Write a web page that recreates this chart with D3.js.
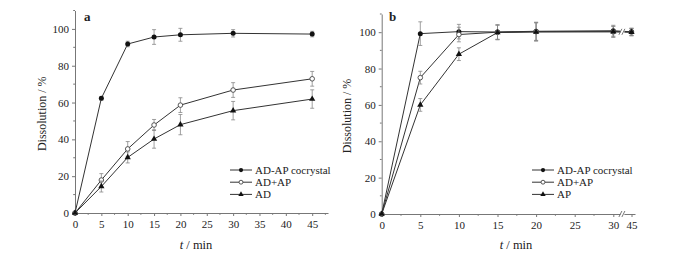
<!DOCTYPE html>
<html><head><meta charset="utf-8">
<script src="https://cdn.jsdelivr.net/npm/d3@7"></script>
<style>body{margin:0;background:#fff}svg{display:block}text{font-family:"Liberation Serif","Times New Roman",serif;fill:#222}</style>
</head><body><svg id="c" width="700" height="254"></svg>
<script>
const times = [0, 5, 10, 15, 20, 30, 45];
// panel a
const aCocrystal = [0, 62.3, 91.8, 95.6, 96.8, 97.6, 97.2];
const aCocrystalErr = [0, 1, 1.5, 4, 3.5, 2, 1.5];
const aMix = [0, 17.9, 34.8, 47.8, 58.6, 66.8, 72.9];
const aMixErr = [0, 3.5, 4, 3, 4, 4, 4];
const aAD = [0, 14.4, 30.2, 40.2, 48.0, 55.6, 61.9];
const aADErr = [0, 3, 3, 5, 5.5, 5, 5];
// panel b
const bCocrystal = [0, 99.2, 100.3, 100.1, 100.5, 100.8, 100.2];
const bCocrystalErr = [0, 6.5, 4, 4, 5, 3, 2];
const bMix = [0, 75.0, 98.7, 100, 100.3, 100.2, 100.1];
const bMixErr = [0, 3.5, 4, 4, 5, 3, 2];
const bAP = [0, 60.0, 87.9, 99.8, 100.1, 100.3, 100];
const bAPErr = [0, 3.5, 3.5, 4, 5, 3, 2];
const yTicks = [0, 20, 40, 60, 80, 100];
const xTicksA = [0, 5, 10, 15, 20, 25, 30, 35, 40, 45];
const xTicksB = [0, 5, 10, 15, 20, 25, 30, 45];
const legendA = ["AD-AP cocrystal", "AD+AP", "AD"];
const legendB = ["AD-AP cocrystal", "AD+AP", "AP"];

const svg = d3.select("#c");
const lineCol = "#333", errCol = "#888";

function panel(cfg) {
  const g = svg.append("g");
  const x = cfg.x, y = cfg.y;
  const y0 = y(0), x0 = x.range()[0];
  const yAx = g.append("g").attr("transform", `translate(${x0},0)`)
    .call(d3.axisLeft(y).tickValues(yTicks).tickSize(3).tickPadding(3).tickSizeOuter(0));
  const xAx = g.append("g").attr("transform", `translate(0,${y0})`)
    .call(d3.axisBottom(x).tickValues(cfg.xTicks).tickSize(3).tickPadding(4).tickSizeOuter(0));
  [yAx, xAx].forEach(a => {
    a.select(".domain").attr("stroke", "#777");
    a.selectAll(".tick line").attr("stroke", "#777");
    a.selectAll("text").attr("font-size", 11).attr("fill", "#333")
      .attr("font-family", "Liberation Serif, serif");
  });
  g.selectAll(".mx").data(cfg.minorX).join("line")
    .attr("x1", d => x(d)).attr("x2", d => x(d)).attr("y1", y0).attr("y2", y0 + 1.8).attr("stroke", "#777");
  g.selectAll(".my").data([10, 30, 50, 70, 90, 110]).join("line")
    .attr("y1", d => y(d)).attr("y2", d => y(d)).attr("x1", x0).attr("x2", x0 - 1.8).attr("stroke", "#777");
  cfg.series.forEach(s => {
    const pts = times.map((t, i) => ({ t, v: s.v[i], e: s.e[i] }));
    g.append("path").datum(pts).attr("fill", "none").attr("stroke", lineCol).attr("stroke-width", 1)
      .attr("d", d3.line().x(d => x(d.t)).y(d => y(d.v)));
    const eb = g.append("g").attr("stroke", errCol).attr("stroke-width", 0.8);
    pts.filter(d => d.e > 0).forEach(d => {
      eb.append("line").attr("x1", x(d.t)).attr("x2", x(d.t)).attr("y1", y(d.v - d.e)).attr("y2", y(d.v + d.e));
      eb.append("line").attr("x1", x(d.t) - 2).attr("x2", x(d.t) + 2).attr("y1", y(d.v - d.e)).attr("y2", y(d.v - d.e));
      eb.append("line").attr("x1", x(d.t) - 2).attr("x2", x(d.t) + 2).attr("y1", y(d.v + d.e)).attr("y2", y(d.v + d.e));
    });
    pts.forEach(d => drawMarker(g, s.m, x(d.t), y(d.v)));
  });
  if (cfg.brk) {
    const bx = x(cfg.brk);
    g.append("rect").attr("x", bx - 2).attr("y", y(110)).attr("width", 4).attr("height", y0 - y(110) + 2).attr("fill", "#fff");
    [y0, y(100.2)].forEach(yy => {
      [-2, 1].forEach(dx => g.append("line").attr("x1", bx + dx - 1.5).attr("x2", bx + dx + 1.5)
        .attr("y1", yy + 3).attr("y2", yy - 3).attr("stroke", "#555").attr("stroke-width", 0.8));
    });
  }
  g.append("text").attr("x", cfg.tag[0]).attr("y", cfg.tag[1]).attr("font-size", 13).attr("font-weight", "bold").text(cfg.tagText);
  g.append("text").attr("transform", `translate(${cfg.ylab},${(y(0) + y(110)) / 2 + 2}) rotate(-90)`)
    .attr("text-anchor", "middle").attr("font-size", 12).text("Dissolution / %");
  const xl = g.append("text").attr("x", cfg.xlab).attr("y", 249).attr("text-anchor", "middle").attr("font-size", 12.5);
  xl.append("tspan").attr("font-style", "italic").text("t");
  xl.append("tspan").text(" / min");
  const lg = g.append("g").attr("transform", `translate(${cfg.leg[0]},${cfg.leg[1]})`);
  cfg.legend.forEach((name, i) => {
    const yy = i * 12.2;
    lg.append("line").attr("x1", 0).attr("x2", 22).attr("y1", yy).attr("y2", yy).attr("stroke", lineCol);
    drawMarker(lg, cfg.series[i].m, 11, yy, 0.85);
    lg.append("text").attr("x", 25).attr("y", yy + 3.8).attr("font-size", 11).text(name);
  });
}

function drawMarker(g, m, cx, cy, k = 1) {
  if (m === "fc") g.append("circle").attr("cx", cx).attr("cy", cy).attr("r", 2.5 * k).attr("fill", "#111");
  else if (m === "oc") g.append("circle").attr("cx", cx).attr("cy", cy).attr("r", 2.3 * k).attr("fill", "#fff").attr("stroke", "#444").attr("stroke-width", 0.9);
  else g.append("path").attr("transform", `translate(${cx},${cy})`).attr("d", d3.symbol(d3.symbolTriangle, 17 * k * k)()).attr("fill", "#111");
}

panel({
  x: d3.scaleLinear().domain([0, 48]).range([75, 328]),
  y: d3.scaleLinear().domain([0, 110]).range([213, 10.5]),
  xTicks: xTicksA,
  minorX: d3.range(2.5, 48, 5),
  series: [{ v: aCocrystal, e: aCocrystalErr, m: "fc" }, { v: aMix, e: aMixErr, m: "oc" }, { v: aAD, e: aADErr, m: "tr" }],
  tag: [84, 21], tagText: "a", ylab: 46, xlab: 196, leg: [230, 170], legend: legendA
});
panel({
  x: d3.scaleLinear().domain([0, 30, 45, 47]).range([381.7, 613.3, 631.5, 635]),
  y: d3.scaleLinear().domain([0, 110]).range([214, 14]),
  xTicks: xTicksB,
  minorX: [2.5, 7.5, 12.5, 17.5, 22.5, 27.5],
  brk: 37.5,
  series: [{ v: bCocrystal, e: bCocrystalErr, m: "fc" }, { v: bMix, e: bMixErr, m: "oc" }, { v: bAP, e: bAPErr, m: "tr" }],
  tag: [389, 21], tagText: "b", ylab: 351, xlab: 516, leg: [532, 170], legend: legendB
});
</script></body></html>
